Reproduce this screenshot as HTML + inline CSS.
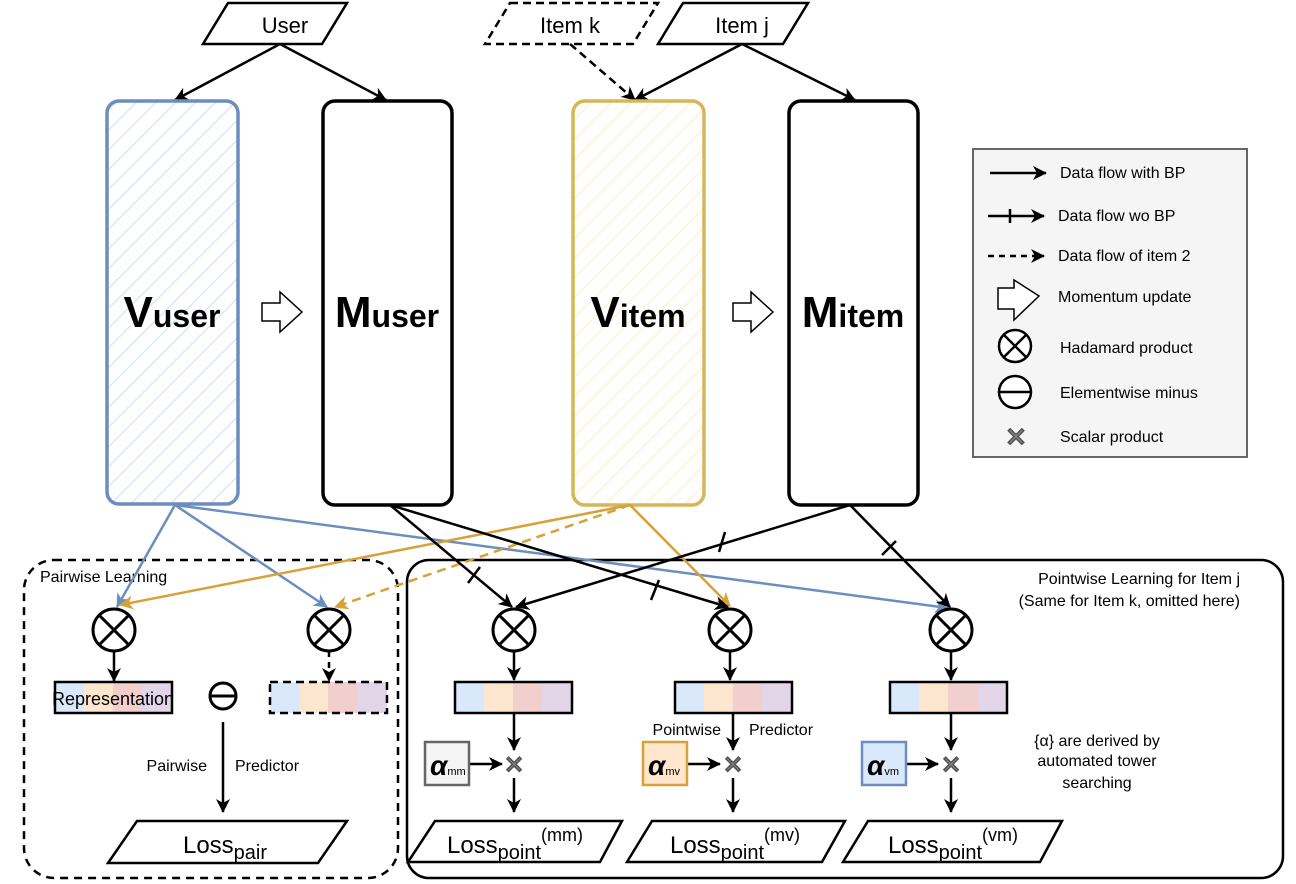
<!DOCTYPE html>
<html><head><meta charset="utf-8"><style>
html,body{margin:0;padding:0;background:#fff;}
svg{display:block;font-family:"Liberation Sans",sans-serif;}
</style></head><body>
<svg width="1296" height="884" viewBox="0 0 1296 884" xmlns="http://www.w3.org/2000/svg">
<defs>
<pattern id="hb" width="14" height="14" patternUnits="userSpaceOnUse" patternTransform="rotate(45)"><rect width="14" height="14" fill="#fff"/><line x1="0" y1="0" x2="0" y2="14" stroke="#dae8fc" stroke-width="3"/></pattern>
<pattern id="hy" width="14" height="14" patternUnits="userSpaceOnUse" patternTransform="rotate(45)"><rect width="14" height="14" fill="#fff"/><line x1="0" y1="0" x2="0" y2="14" stroke="#fff2cc" stroke-width="3"/></pattern>
<marker id="ak" markerWidth="14" markerHeight="14" refX="13" refY="7" orient="auto" markerUnits="userSpaceOnUse"><path d="M0,0 L14,7 L0,14 L4,7 z" fill="#000"/></marker>
<marker id="ab" markerWidth="14" markerHeight="14" refX="13" refY="7" orient="auto" markerUnits="userSpaceOnUse"><path d="M0,0 L14,7 L0,14 L4,7 z" fill="#6c8ebf"/></marker>
<marker id="ay" markerWidth="14" markerHeight="14" refX="13" refY="7" orient="auto" markerUnits="userSpaceOnUse"><path d="M0,0 L14,7 L0,14 L4,7 z" fill="#d6a136"/></marker>
</defs>

<polygon points="228,3 347,3 322,44 203,44" fill="#fff" stroke="#000" stroke-width="2.5"/>
<text x="285" y="33" font-size="22" text-anchor="middle">User</text>
<polygon points="510,3 658,3 633,44 485,44" fill="#fff" stroke="#000" stroke-width="2.5" stroke-dasharray="8,5"/>
<text x="570" y="33" font-size="22" text-anchor="middle">Item k</text>
<polygon points="683,3 808,3 783,44 658,44" fill="#fff" stroke="#000" stroke-width="2.5"/>
<text x="742" y="33" font-size="22" text-anchor="middle">Item j</text>

<g stroke="#000" stroke-width="2.5" fill="none">
<line x1="280" y1="44" x2="175" y2="100" marker-end="url(#ak)"/>
<line x1="280" y1="44" x2="386" y2="100" marker-end="url(#ak)"/>
<line x1="570" y1="44" x2="635" y2="100" stroke-dasharray="8,5" marker-end="url(#ak)"/>
<line x1="742" y1="44" x2="635" y2="100" marker-end="url(#ak)"/>
<line x1="742" y1="44" x2="855" y2="100" marker-end="url(#ak)"/>
</g>

<rect x="107" y="101" width="131" height="403" rx="12" fill="url(#hb)" stroke="#6c8ebf" stroke-width="3.5"/>
<rect x="323" y="101" width="129" height="404" rx="12" fill="#fff" stroke="#000" stroke-width="3.5"/>
<rect x="573" y="101" width="131" height="404" rx="12" fill="url(#hy)" stroke="#d6b656" stroke-width="3.5"/>
<rect x="789" y="101" width="129" height="404" rx="12" fill="#fff" stroke="#000" stroke-width="3.5"/>
<g font-weight="bold" text-anchor="middle">
<text x="172" y="327" font-size="44">V<tspan font-size="32">user</tspan></text>
<text x="387" y="327" font-size="44">M<tspan font-size="32">user</tspan></text>
<text x="638" y="327" font-size="44">V<tspan font-size="32">item</tspan></text>
<text x="853" y="327" font-size="44">M<tspan font-size="32">item</tspan></text>
</g>
<polygon points="262,303 280,303 280,292 302,312 280,332 280,321 262,321" fill="#fff" stroke="#000" stroke-width="1.5"/>
<polygon points="733,303 751,303 751,292 773,312 751,332 751,321 733,321" fill="#fff" stroke="#000" stroke-width="1.5"/>

<rect x="973" y="149" width="274" height="308" fill="#f5f5f5" stroke="#666" stroke-width="2"/>
<g font-size="16">
<text x="1060" y="178">Data flow with BP</text>
<text x="1058" y="221">Data flow wo BP</text>
<text x="1058" y="261">Data flow of item 2</text>
<text x="1058" y="302">Momentum update</text>
<text x="1060" y="353">Hadamard product</text>
<text x="1060" y="398">Elementwise minus</text>
<text x="1060" y="442">Scalar product</text>
</g>
<g stroke="#000" stroke-width="2.5" fill="none">
<line x1="990" y1="173" x2="1046" y2="173" marker-end="url(#ak)"/>
<line x1="988" y1="216" x2="1044" y2="216" marker-end="url(#ak)"/>
<line x1="1010" y1="209" x2="1010" y2="223"/>
<line x1="988" y1="256" x2="1044" y2="256" stroke-dasharray="6,5" marker-end="url(#ak)"/>
</g>
<polygon points="998,288 1014,288 1014,280 1039,296 1014,320 1014,309 998,309" fill="#fff" stroke="#000" stroke-width="1.5"/>
<g stroke="#000" stroke-width="2.5" fill="#fff">
<circle cx="1015" cy="346" r="16"/><line x1="1004" y1="335" x2="1026" y2="357"/><line x1="1026" y1="335" x2="1004" y2="357"/>
<circle cx="1015" cy="392" r="16"/><line x1="999" y1="392" x2="1031" y2="392"/>
</g>
<text x="1016" y="446" font-size="26" text-anchor="middle" fill="#999" stroke="#555" stroke-width="0.8" font-weight="bold">✕</text>

<rect x="24" y="560" width="374" height="318" rx="30" fill="none" stroke="#000" stroke-width="2.5" stroke-dasharray="8,6"/>
<rect x="407" y="560" width="876" height="318" rx="22" fill="none" stroke="#000" stroke-width="2.5"/>
<text x="40" y="582" font-size="16">Pairwise Learning</text>
<text x="1240" y="584" font-size="16" text-anchor="end">Pointwise Learning for Item j</text>
<text x="1240" y="606" font-size="16" text-anchor="end">(Same for Item k, omitted here)</text>

<g fill="none" stroke-width="2.5">
<line x1="175" y1="505" x2="117" y2="607" stroke="#6c8ebf" marker-end="url(#ab)"/>
<line x1="175" y1="505" x2="327" y2="607" stroke="#6c8ebf" marker-end="url(#ab)"/>
<line x1="175" y1="505" x2="948" y2="608" stroke="#6c8ebf" marker-end="url(#ab)"/>
<line x1="630" y1="505" x2="120" y2="605" stroke="#d6a136" marker-end="url(#ay)"/>
<line x1="630" y1="505" x2="335" y2="607" stroke="#d6a136" stroke-dasharray="9,6" marker-end="url(#ay)"/>
<line x1="630" y1="505" x2="730" y2="606" stroke="#d6a136" marker-end="url(#ay)"/>
<line x1="390" y1="505" x2="512" y2="607" stroke="#000" marker-end="url(#ak)"/>
<line x1="390" y1="505" x2="728" y2="607" stroke="#000" marker-end="url(#ak)"/>
<line x1="850" y1="505" x2="516" y2="607" stroke="#000" marker-end="url(#ak)"/>
<line x1="850" y1="505" x2="950" y2="607" stroke="#000" marker-end="url(#ak)"/>
<g stroke="#000">
<line x1="468" y1="583" x2="480" y2="567"/>
<line x1="651" y1="600" x2="659" y2="580"/>
<line x1="719" y1="552" x2="725" y2="532"/>
<line x1="882" y1="555" x2="896" y2="541"/>
</g>
</g>

<g stroke="#000" stroke-width="3" fill="#fff">
<circle cx="114" cy="630" r="21"/><line x1="99" y1="615" x2="129" y2="645"/><line x1="129" y1="615" x2="99" y2="645"/>
<circle cx="329" cy="630" r="21"/><line x1="314" y1="615" x2="344" y2="645"/><line x1="344" y1="615" x2="314" y2="645"/>
<circle cx="514" cy="630" r="21"/><line x1="499" y1="615" x2="529" y2="645"/><line x1="529" y1="615" x2="499" y2="645"/>
<circle cx="730" cy="630" r="21"/><line x1="715" y1="615" x2="745" y2="645"/><line x1="745" y1="615" x2="715" y2="645"/>
<circle cx="951" cy="630" r="21"/><line x1="936" y1="615" x2="966" y2="645"/><line x1="966" y1="615" x2="936" y2="645"/>
<circle cx="223" cy="696" r="13"/><line x1="210" y1="696" x2="236" y2="696"/>
</g>

<g stroke="#000" stroke-width="2.5" fill="none">
<line x1="114" y1="651" x2="114" y2="681" marker-end="url(#ak)"/>
<line x1="329" y1="651" x2="329" y2="681" stroke-dasharray="6,5" marker-end="url(#ak)"/>
<line x1="223" y1="722" x2="223" y2="812" marker-end="url(#ak)"/>
<line x1="514" y1="651" x2="514" y2="680" marker-end="url(#ak)"/>
<line x1="730" y1="651" x2="730" y2="680" marker-end="url(#ak)"/>
<line x1="951" y1="651" x2="951" y2="680" marker-end="url(#ak)"/>
<line x1="514" y1="714" x2="514" y2="750" marker-end="url(#ak)"/>
<line x1="733" y1="714" x2="733" y2="750" marker-end="url(#ak)"/>
<line x1="951" y1="714" x2="951" y2="750" marker-end="url(#ak)"/>
<line x1="514" y1="778" x2="514" y2="812" marker-end="url(#ak)"/>
<line x1="733" y1="778" x2="733" y2="812" marker-end="url(#ak)"/>
<line x1="951" y1="778" x2="951" y2="812" marker-end="url(#ak)"/>
<line x1="470" y1="764" x2="502" y2="764" marker-end="url(#ak)"/>
<line x1="688" y1="764" x2="720" y2="764" marker-end="url(#ak)"/>
<line x1="906" y1="764" x2="938" y2="764" marker-end="url(#ak)"/>
</g>

<g stroke="none">
<g transform="translate(55,682)"><rect width="29" height="31" fill="#dae8fc"/><rect x="29" width="29" height="31" fill="#fce6cf"/><rect x="58" width="29" height="31" fill="#f1cfcd"/><rect x="87" width="30" height="31" fill="#e1d5e7"/></g>
<g transform="translate(270,682)"><rect width="29" height="31" fill="#dae8fc"/><rect x="29" width="29" height="31" fill="#fce6cf"/><rect x="58" width="29" height="31" fill="#f1cfcd"/><rect x="87" width="30" height="31" fill="#e1d5e7"/></g>
<g transform="translate(455,682)"><rect width="29" height="31" fill="#dae8fc"/><rect x="29" width="29" height="31" fill="#fce6cf"/><rect x="58" width="29" height="31" fill="#f1cfcd"/><rect x="87" width="30" height="31" fill="#e1d5e7"/></g>
<g transform="translate(675,682)"><rect width="29" height="31" fill="#dae8fc"/><rect x="29" width="29" height="31" fill="#fce6cf"/><rect x="58" width="29" height="31" fill="#f1cfcd"/><rect x="87" width="30" height="31" fill="#e1d5e7"/></g>
<g transform="translate(890,682)"><rect width="29" height="31" fill="#dae8fc"/><rect x="29" width="29" height="31" fill="#fce6cf"/><rect x="58" width="29" height="31" fill="#f1cfcd"/><rect x="87" width="30" height="31" fill="#e1d5e7"/></g>
</g>
<g fill="none" stroke="#000" stroke-width="2.5">
<rect x="55" y="682" width="117" height="31"/>
<rect x="270" y="682" width="117" height="31" stroke-dasharray="8,5"/>
<rect x="455" y="682" width="117" height="31"/>
<rect x="675" y="682" width="117" height="31"/>
<rect x="890" y="682" width="117" height="31"/>
</g>
<text x="113" y="705" font-size="18" text-anchor="middle">Representation</text>

<text x="207" y="771" font-size="16" text-anchor="end">Pairwise</text>
<text x="235" y="771" font-size="16">Predictor</text>
<text x="721" y="735" font-size="16" text-anchor="end">Pointwise</text>
<text x="749" y="735" font-size="16">Predictor</text>

<rect x="425" y="742" width="44" height="43" fill="#f5f5f5" stroke="#666" stroke-width="2.5"/>
<rect x="643" y="742" width="44" height="43" fill="#ffe6cc" stroke="#d6a136" stroke-width="2.5"/>
<rect x="862" y="742" width="44" height="43" fill="#dae8fc" stroke="#6c8ebf" stroke-width="2.5"/>
<g font-weight="bold" font-style="italic">
<text x="430" y="775" font-size="28">α<tspan font-size="11" font-weight="normal" font-style="normal">mm</tspan></text>
<text x="648" y="775" font-size="28">α<tspan font-size="11" font-weight="normal" font-style="normal">mv</tspan></text>
<text x="867" y="775" font-size="28">α<tspan font-size="11" font-weight="normal" font-style="normal">vm</tspan></text>
</g>
<g font-size="24" text-anchor="middle" fill="#999" stroke="#555" stroke-width="0.8" font-weight="bold">
<text x="514" y="773">✕</text><text x="733" y="773">✕</text><text x="951" y="773">✕</text>
</g>

<g font-size="16" text-anchor="middle">
<text x="1097" y="746">{α} are derived by</text>
<text x="1097" y="766">automated tower</text>
<text x="1097" y="788">searching</text>
</g>

<g fill="#fff" stroke="#000" stroke-width="2.5">
<polygon points="137,821 347,821 318,863 108,863"/>
<polygon points="435,821 622,821 600,862 408,862"/>
<polygon points="652,821 845,821 822,862 627,862"/>
<polygon points="868,821 1062,821 1040,862 843,862"/>
</g>
<g font-size="24" text-anchor="middle">
<text x="225" y="853">Loss<tspan font-size="20" dy="6">pair</tspan></text>
<text x="515" y="853">Loss<tspan font-size="20" dy="6">point</tspan><tspan font-size="18" dy="-18">(mm)</tspan></text>
<text x="735" y="853">Loss<tspan font-size="20" dy="6">point</tspan><tspan font-size="18" dy="-18">(mv)</tspan></text>
<text x="953" y="853">Loss<tspan font-size="20" dy="6">point</tspan><tspan font-size="18" dy="-18">(vm)</tspan></text>
</g>
</svg>
</body></html>
